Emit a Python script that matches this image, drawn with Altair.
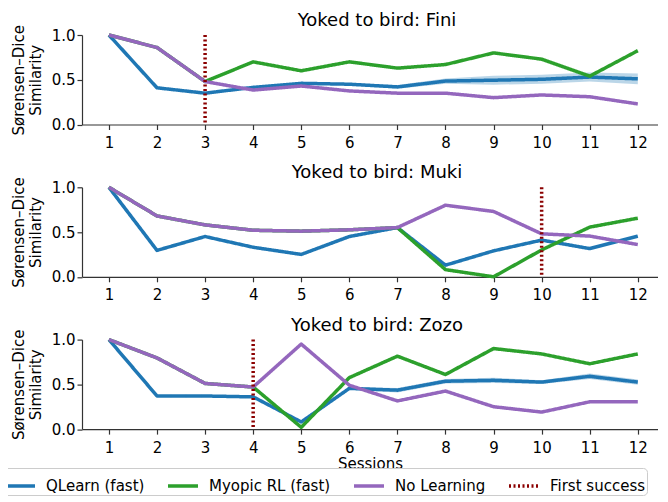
import altair as alt
import pandas as pd

FONT = "DejaVu Sans"

sessions = list(range(1, 13))
birds = ["Fini", "Muki", "Zozo"]
first_success = [3, 10, 4]
models = ["QLearn (fast)", "Myopic RL (fast)", "No Learning"]
marker_label = "First success"

# Fini
fini_qlearn = [1.0, 0.41, 0.35, 0.415, 0.46, 0.45, 0.42, 0.485, 0.495, 0.505, 0.53, 0.51]
fini_qlearn_ci = [0.0, 0.0, 0.0, 0.005, 0.01, 0.012, 0.02, 0.03, 0.05, 0.05, 0.05, 0.06]
fini_myopic = [1.0, 0.86, 0.48, 0.70, 0.60, 0.70, 0.63, 0.67, 0.80, 0.73, 0.54, 0.825]
fini_nolearn = [1.0, 0.86, 0.48, 0.385, 0.43, 0.375, 0.35, 0.35, 0.30, 0.33, 0.31, 0.23]

# Muki
muki_qlearn = [1.0, 0.295, 0.45, 0.33, 0.25, 0.45, 0.55, 0.13, 0.29, 0.41, 0.315, 0.455]
muki_qlearn_ci = [0.0, 0.0, 0.0, 0.0, 0.0, 0.0, 0.005, 0.005, 0.005, 0.005, 0.005, 0.005]
muki_myopic = [1.0, 0.68, 0.58, 0.52, 0.51, 0.525, 0.55, 0.08, 0.0, 0.30, 0.555, 0.655]
muki_nolearn = [1.0, 0.68, 0.58, 0.52, 0.51, 0.525, 0.55, 0.80, 0.73, 0.48, 0.455, 0.36]

# Zozo
zozo_qlearn = [1.0, 0.37, 0.37, 0.36, 0.08, 0.455, 0.435, 0.535, 0.545, 0.525, 0.59, 0.525]
zozo_qlearn_ci = [0.0, 0.0, 0.0, 0.0, 0.005, 0.015, 0.025, 0.025, 0.03, 0.02, 0.03, 0.03]
zozo_myopic = [1.0, 0.795, 0.51, 0.47, 0.02, 0.575, 0.815, 0.61, 0.90, 0.84, 0.73, 0.84]
zozo_nolearn = [1.0, 0.795, 0.51, 0.47, 0.95, 0.49, 0.315, 0.425, 0.25, 0.19, 0.305, 0.305]

series = {
    "Fini": (fini_qlearn, fini_qlearn_ci, fini_myopic, fini_nolearn),
    "Muki": (muki_qlearn, muki_qlearn_ci, muki_myopic, muki_nolearn),
    "Zozo": (zozo_qlearn, zozo_qlearn_ci, zozo_myopic, zozo_nolearn),
}

legend_domain = models + [marker_label]
color_scale = alt.Scale(domain=legend_domain, range=["#1f77b4", "#2ca02c", "#9467bd", "#8b0000"])
dash_scale = alt.Scale(domain=legend_domain, range=[[1, 0], [1, 0], [1, 0], [2, 2.5]])
width_scale = alt.Scale(domain=legend_domain, range=[3.5, 3.5, 3.5, 2])

legend = alt.Legend(
    title=None, orient="none", legendX=-80, legendY=433, direction="horizontal",
    symbolType="stroke", symbolSize=900, labelOffset=9, columnPadding=16,
    labelFont=FONT, labelFontSize=15, labelColor="#000",
    strokeColor="#cccccc", cornerRadius=4, padding=1, fillColor="white",
)

xscale = alt.Scale(domain=[0.44, 12.42], nice=False, zero=False)
yscale = alt.Scale(domain=[0, 1], nice=False)


def enc_model():
    return dict(
        color=alt.Color("model:N", scale=color_scale, legend=legend),
        strokeDash=alt.StrokeDash("model:N", scale=dash_scale, legend=legend),
        strokeWidth=alt.StrokeWidth("model:N", scale=width_scale, legend=legend),
    )


def panel(idx, bird, last):
    q, ci, my, nl = series[bird]
    xaxis = alt.Axis(values=sessions, format="d", title="Sessions" if last else "",
                     tickSize=5, labelPadding=6, titlePadding=1.5)
    yaxis = alt.Axis(values=[0, 0.5, 1.0], format=".1f", tickSize=5, labelPadding=2,
                     title=["Sørensen–Dice", "Similarity"], titlePadding=8, titleLineHeight=17)
    band_df = pd.DataFrame({"session": sessions,
                            "lo": [v - c for v, c in zip(q, ci)],
                            "hi": [v + c for v, c in zip(q, ci)]})
    band = alt.Chart(band_df).mark_area(color="#1f77b4", opacity=0.3).encode(
        x=alt.X("session:Q", scale=xscale, axis=xaxis),
        y=alt.Y("lo:Q", scale=yscale, axis=yaxis),
        y2="hi:Q",
    )
    layers = [band]
    for m, vals in zip(models, [q, my, nl]):
        d = pd.DataFrame({"session": sessions, "value": vals, "model": m})
        layers.append(
            alt.Chart(d).mark_line(strokeJoin="round", strokeCap="butt").encode(
                x=alt.X("session:Q", scale=xscale, axis=xaxis),
                y=alt.Y("value:Q", scale=yscale, axis=yaxis),
                **enc_model(),
            )
        )
    rd = pd.DataFrame({"session": [first_success[idx]], "model": [marker_label]})
    layers.append(
        alt.Chart(rd).mark_rule().encode(
            x=alt.X("session:Q", scale=xscale, axis=xaxis),
            **enc_model(),
        )
    )
    return alt.layer(*layers).properties(
        width=576, height=89.5,
        title=alt.TitleParams(f"Yoked to bird: {bird}", font=FONT, fontSize=18,
                              fontWeight="normal", color="#000", offset=-5.5, dx=7),
    )


chart = alt.vconcat(
    *[panel(i, b, i == len(birds) - 1) for i, b in enumerate(birds)], spacing=12.3
).resolve_scale(color="shared", strokeDash="shared", strokeWidth="shared").properties(
    padding={"left": -7, "top": 3, "right": 0, "bottom": 0}
).configure_view(stroke=None).configure_axis(
    grid=False, labelFont=FONT, labelFontSize=15, labelColor="#000",
    titleFont=FONT, titleFontSize=15, titleFontWeight="normal", titleColor="#000",
    domainColor="#333", tickColor="#333", domainWidth=1.2, tickWidth=1.2,
)

chart.save("out.html", embed_options={"renderer": "svg", "actions": False})
